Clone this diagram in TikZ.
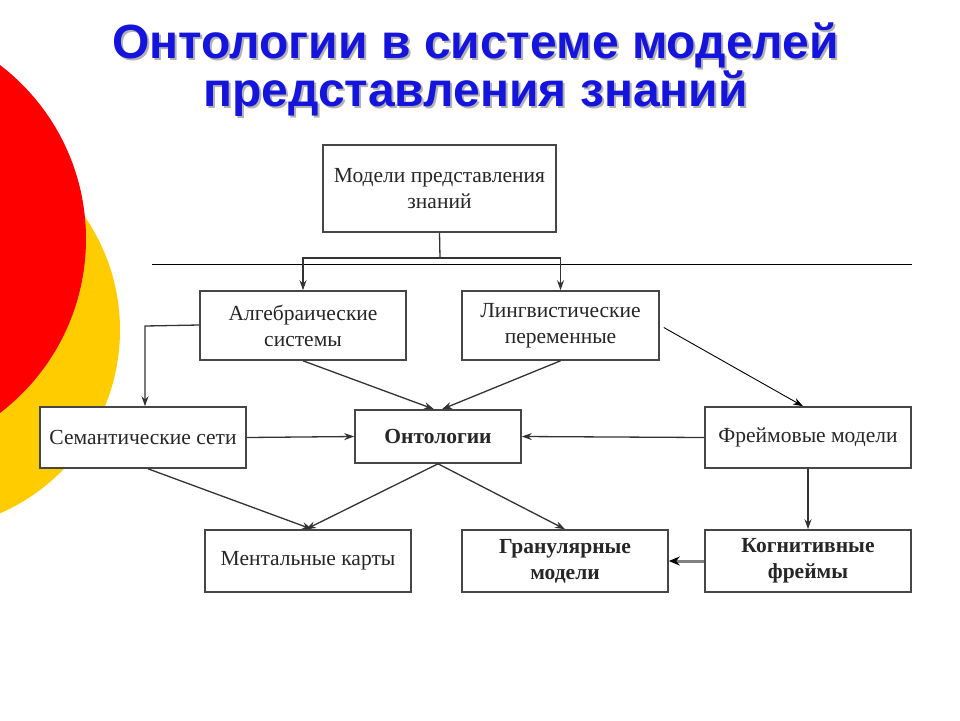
\documentclass[tikz,border=0pt]{standalone}
\usepackage{fontspec}
\setmainfont{Liberation Serif}
\newfontfamily\titlefont{Liberation Sans Bold}
\usetikzlibrary{arrows.meta}
\definecolor{titleblue}{RGB}{20,20,220}
\definecolor{circred}{RGB}{255,0,0}
\definecolor{circyellow}{RGB}{255,204,0}
\definecolor{boxgray}{RGB}{70,70,70}
\tikzset{
  box/.style={draw=boxgray, line width=1.6pt, fill=white, inner sep=0pt, align=center,
    font=\fontsize{21.5}{26}\selectfont, text=black!85},
  boldbox/.style={box, font=\fontsize{21.5}{26}\selectfont\bfseries},
  conn/.style={draw=black!80, line width=1.3pt, -{Stealth[length=10pt,width=7pt]}},
  thinconn/.style={draw=black, line width=0.9pt, -{Stealth[length=10pt,width=7pt]}},
  titletext/.style={font=\titlefont\fontsize{48}{54}\selectfont, anchor=base, inner sep=0pt}
}
\begin{document}
\begin{tikzpicture}[x=1pt,y=-1pt]
\useasboundingbox (0,0) rectangle (960,720);
\fill[white] (0,0) rectangle (960,720);
% background circles
\begin{scope}
\clip (0,0) rectangle (960,720);
\fill[circyellow] (-80,330) circle[radius=200];
\fill[circred] (-133,239) circle[radius=219];
\end{scope}
% title with shadow
\node[titletext, text=black!30] at (477.5,60.5) {Онтологии в системе моделей};
\node[titletext, text=black!30] at (477.5,108.5) {представления знаний};
\node[titletext, text=titleblue] (t1) at (475.5,58) {Онтологии в системе моделей};
\node[titletext, text=titleblue] (t2) at (475.5,106) {представления знаний};
% separator line
\coordinate (ls) at (152,264);
\coordinate (le) at (912,264);
\draw[black, line width=1pt] (ls) -- (le);
% boxes
\node[box, minimum width=233, minimum height=87] (top) at (439.5,188.5) {Модели представления\\[0pt]знаний};
\node[box, minimum width=206, minimum height=69] (alg) at (303,325.5) {Алгебраические\\[0pt]системы};
\node[box, minimum width=197, minimum height=69] (lin) at (560.5,325.5) {Лингвистические\\[0pt]переменные};
\node[box, minimum width=206, minimum height=61] (sem) at (143,437.5) {Семантические сети};
\node[boldbox, minimum width=166, minimum height=53] (ont) at (438,436.5) {Онтологии};
\node[box, minimum width=206, minimum height=61] (frm) at (808,437.5) {Фреймовые модели};
\node[box, minimum width=206, minimum height=62] (men) at (308,561) {Ментальные карты};
\node[boldbox, minimum width=206, minimum height=62] (gra) at (565,561) {Гранулярные\\[0pt]модели};
\node[boldbox, minimum width=206, minimum height=62] (cog) at (808,561) {Когнитивные\\[0pt]фреймы};
% connectors
\coordinate (split) at (440,258);
\draw[black!80, line width=1.3pt] (top.south) -- (split);
\draw[conn] (split) -| (alg.north);
\draw[conn] (split) -| (lin.north);
\coordinate (algl) at (145,326);
\draw[conn] ([yshift=0.5]alg.west) -- (algl) -- (sem.north -| algl);
\draw[conn] (alg.south) -- ([xshift=-4]ont.north);
\draw[conn] (lin.south) -- ([xshift=4]ont.north);
\draw[thinconn] ([yshift=-2]lin.east) ++(4,0) -- ([xshift=-5]frm.north);
\draw[conn] (sem.east) -- (ont.west);
\draw[conn] (frm.west) -- (ont.east);
\draw[conn] ([xshift=5]sem.south) -- ([xshift=4]men.north);
\draw[conn] (ont.south) -- ([xshift=-2]men.north);
\draw[conn] (ont.south) -- (gra.north);
\draw[conn] (frm.south) -- (cog.north);
\draw[draw=black!50, line width=3pt, -{Stealth[length=11pt,width=9pt,color=black,fill=black]}] (cog.west) -- (gra.east);
\end{tikzpicture}
\end{document}
